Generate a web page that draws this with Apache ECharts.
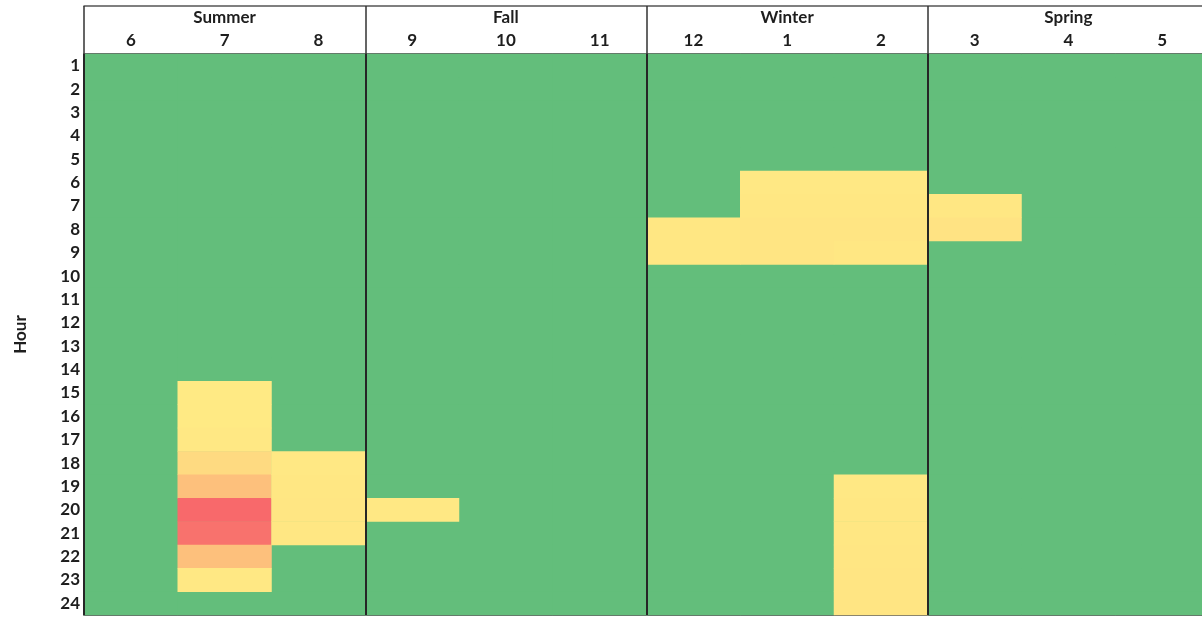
<!DOCTYPE html>
<html>
<head>
<meta charset="utf-8">
<script src="https://cdn.jsdelivr.net/npm/echarts@6/dist/echarts.min.js"></script>
<style>html,body{margin:0;padding:0;background:#fff;overflow:hidden;}#c{width:1209px;height:617px;}</style>
</head>
<body>
<div id="c"></div>
<script>
const months = ['6','7','8','9','10','11','12','1','2','3','4','5'];
const seasons = ['Summer','Fall','Winter','Spring'];
const hours = ['1','2','3','4','5','6','7','8','9','10','11','12','13','14','15','16','17','18','19','20','21','22','23','24'];
// values per month (column), indexed by hour 1..24
const m6  = [0,0,0,0,0,0,0,0,0,0,0,0,0,0,0,0,0,0,0,0,0,0,0,0];
const m7  = [0,0,0,0,0,0,0,0,0,0,0,0,0,0,1,1,2,13,33,100,93,33,2,0];
const m8  = [0,0,0,0,0,0,0,0,0,0,0,0,0,0,0,0,0,2,3,4,3,0,0,0];
const m9  = [0,0,0,0,0,0,0,0,0,0,0,0,0,0,0,0,0,0,0,2,0,0,0,0];
const m10 = [0,0,0,0,0,0,0,0,0,0,0,0,0,0,0,0,0,0,0,0,0,0,0,0];
const m11 = [0,0,0,0,0,0,0,0,0,0,0,0,0,0,0,0,0,0,0,0,0,0,0,0];
const m12 = [0,0,0,0,0,0,0,3,3,0,0,0,0,0,0,0,0,0,0,0,0,0,0,0];
const m1  = [0,0,0,0,0,2,3,5,5,0,0,0,0,0,0,0,0,0,0,0,0,0,0,0];
const m2  = [0,0,0,0,0,2,3,5,3,0,0,0,0,0,0,0,0,0,2,3,3,4,5,5];
const m3  = [0,0,0,0,0,0,3,6,0,0,0,0,0,0,0,0,0,0,0,0,0,0,0,0];
const m4  = [0,0,0,0,0,0,0,0,0,0,0,0,0,0,0,0,0,0,0,0,0,0,0,0];
const m5  = [0,0,0,0,0,0,0,0,0,0,0,0,0,0,0,0,0,0,0,0,0,0,0,0];
const columns = [m6,m7,m8,m9,m10,m11,m12,m1,m2,m3,m4,m5];

const zeroData = [], posData = [];
let maxV = 0;
columns.forEach((col, xi) => col.forEach((v, yi) => {
  if (v === 0) zeroData.push([xi, yi, v]); else posData.push([xi, yi, v]);
  if (v > maxV) maxV = v;
}));

const font = 'Lato';
const txt = '#1e1e1e';
const chart = echarts.init(document.getElementById('c'));
chart.setOption({
  animation: false,
  backgroundColor: '#fff',
  grid: { left: 84, top: 54, right: 0, height: 561, show: true, borderColor: '#333', borderWidth: 1.5, backgroundColor: '#63BE7B' },
  xAxis: [
    { type: 'category', data: months, position: 'top', gridIndex: 0,
      axisLine: { show: false }, axisTick: { show: false }, splitLine: { show: false },
      axisLabel: { fontFamily: font, fontWeight: 'bold', fontSize: 17, color: txt, margin: 5, interval: 0 } },
    { type: 'category', data: seasons, position: 'top', offset: 48, gridIndex: 0, z: 10,
      axisLine: { show: true, lineStyle: { color: '#555', width: 1.5 } },
      axisTick: { show: true, inside: true, length: 48, interval: 0, lineStyle: { color: '#333', width: 1.5 } },
      splitLine: { show: true, interval: 0, lineStyle: { color: '#262626', width: 2 } },
      axisLabel: { inside: true, margin: 3, fontFamily: font, fontWeight: 'bold', fontSize: 17, color: txt, interval: 0 } }
  ],
  yAxis: {
    type: 'category', data: hours, inverse: true,
    axisLine: { show: false }, axisTick: { show: false }, splitLine: { show: false },
    axisLabel: { fontFamily: font, fontWeight: 'bold', fontSize: 17, color: txt, margin: 4, interval: 0, padding: [2, 0, 0, 0] },
    name: 'Hour', nameLocation: 'middle', nameGap: 55, nameRotate: 90,
    nameTextStyle: { fontFamily: font, fontWeight: 'bold', fontSize: 17, color: txt }
  },
  visualMap: [
    { show: false, type: 'continuous', seriesIndex: 0, min: 0, max: 1, dimension: 2, inRange: { color: ['#63BE7B', '#63BE7B'] } },
    { show: false, type: 'continuous', seriesIndex: 1, min: 0, max: maxV, dimension: 2, inRange: { color: ['#FFEB84', '#F8696B'] } }
  ],
  series: [
    { type: 'heatmap', xAxisIndex: 0, data: zeroData, itemStyle: { borderWidth: 0 }, z: 1 },
    { type: 'heatmap', xAxisIndex: 0, data: posData, itemStyle: { borderWidth: 0 }, z: 1 }
  ]
});
</script>
</body>
</html>
